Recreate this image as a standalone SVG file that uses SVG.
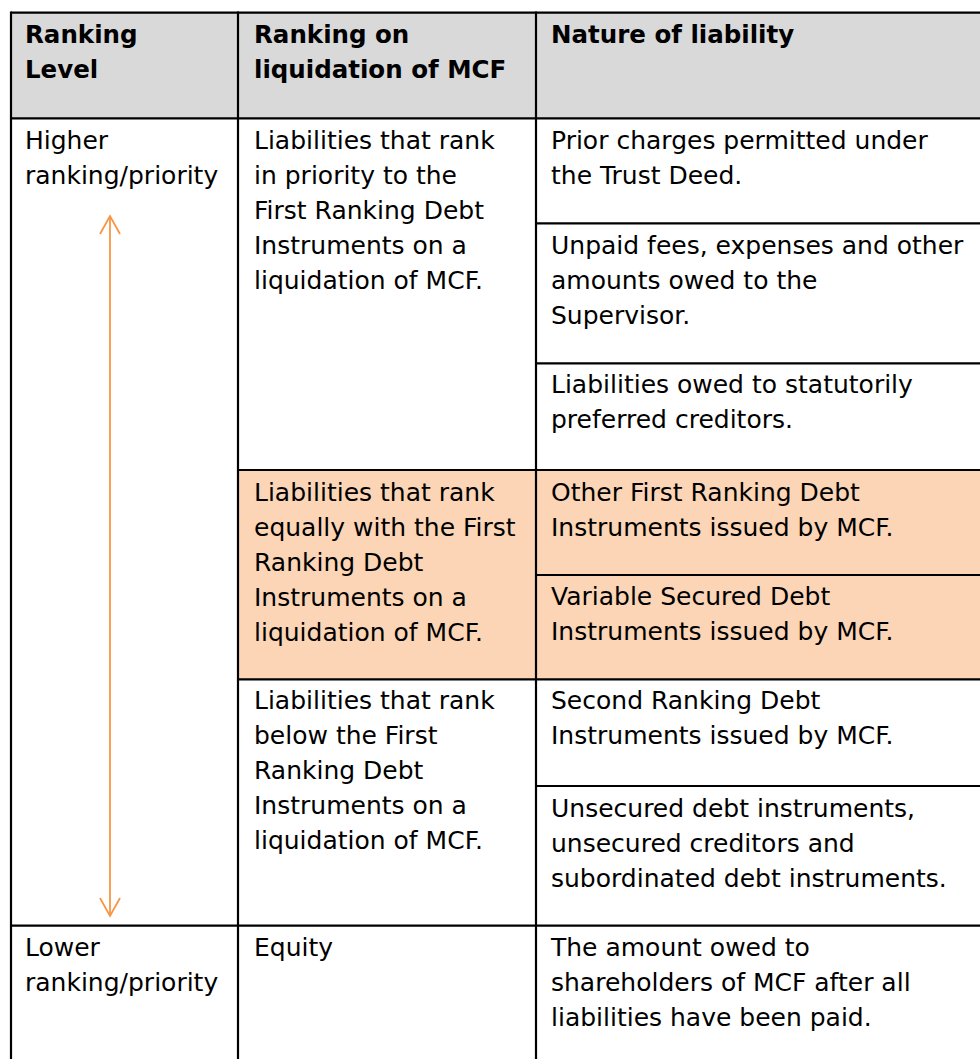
<svg xmlns="http://www.w3.org/2000/svg" width="980" height="1059" viewBox="0 0 980 1059">
<style>
.t{font-family:"DejaVu Sans","Verdana","Liberation Sans",sans-serif;font-size:25px;fill:#000}
.h{font-family:"DejaVu Sans","Verdana","Liberation Sans",sans-serif;font-size:24.5px;font-weight:bold;fill:#000}
.g{stroke:#000;stroke-width:2.2;fill:none}
.arr{stroke:#F79646;stroke-width:1.8;fill:none}
</style>
<defs>
<marker id="ah" viewBox="0 0 24 24" refX="20" refY="12" markerWidth="24" markerHeight="24" markerUnits="userSpaceOnUse" orient="auto-start-reverse">
<path d="M2,2 L20,12 L2,22" stroke="#F79646" stroke-width="1.8" fill="none"/>
</marker>
</defs>
<rect x="0" y="0" width="980" height="1059" fill="#fff"/>
<rect x="11" y="12.7" width="975" height="105.6" fill="#D9D9D9"/>
<rect x="238" y="470" width="748" height="209" fill="#FBD5B5"/>

<g id="grid">
<line class="g" x1="11" y1="12.7" x2="985" y2="12.7"/>
<line class="g" x1="11" y1="118.3" x2="985" y2="118.3"/>
<line class="g" x1="11" y1="925.7" x2="985" y2="925.7"/>
<line class="g" x1="11" y1="11.6" x2="11" y2="1060"/>
<line class="g" x1="238" y1="11.6" x2="238" y2="1060"/>
<line class="g" x1="536" y1="11.6" x2="536" y2="1060"/>
<line class="g" x1="536" y1="223.3" x2="985" y2="223.3"/>
<line class="g" x1="536" y1="363.3" x2="985" y2="363.3"/>
<line class="g" x1="238" y1="470" x2="985" y2="470"/>
<line class="g" x1="536" y1="575" x2="985" y2="575"/>
<line class="g" x1="238" y1="679.3" x2="985" y2="679.3"/>
<line class="g" x1="536" y1="786" x2="985" y2="786"/>
</g>

<g id="connectors">
<line class="arr" x1="110" y1="216" x2="110" y2="916" marker-start="url(#ah)" marker-end="url(#ah)"/>
</g>

<g id="header-level"><text class="h" x="25" y="43">Ranking</text><text class="h" x="25" y="78">Level</text></g>
<g id="header-ranking"><text class="h" x="254" y="43">Ranking on</text><text class="h" x="254" y="78">liquidation of MCF</text></g>
<g id="header-nature"><text class="h" x="551" y="43">Nature of liability</text></g>

<g id="higher"><text class="t" x="25" y="149">Higher</text><text class="t" x="25" y="184">ranking/priority</text></g>
<g id="rank-prior"><text class="t" x="254" y="149">Liabilities that rank</text><text class="t" x="254" y="184">in priority to the</text><text class="t" x="254" y="219">First Ranking Debt</text><text class="t" x="254" y="254">Instruments on a</text><text class="t" x="254" y="289">liquidation of MCF.</text></g>
<g id="prior-charges"><text class="t" x="551" y="149">Prior charges permitted under</text><text class="t" x="551" y="184">the Trust Deed.</text></g>
<g id="unpaid-fees"><text class="t" x="551" y="254">Unpaid fees, expenses and other</text><text class="t" x="551" y="289">amounts owed to the</text><text class="t" x="551" y="324">Supervisor.</text></g>
<g id="statutory"><text class="t" x="551" y="393">Liabilities owed to statutorily</text><text class="t" x="551" y="428">preferred creditors.</text></g>

<g id="rank-equal"><text class="t" x="254" y="500.5">Liabilities that rank</text><text class="t" x="254" y="535.5">equally with the First</text><text class="t" x="254" y="570.5">Ranking Debt</text><text class="t" x="254" y="605.5">Instruments on a</text><text class="t" x="254" y="640.5">liquidation of MCF.</text></g>
<g id="other-first"><text class="t" x="551" y="500.5">Other First Ranking Debt</text><text class="t" x="551" y="535.5">Instruments issued by MCF.</text></g>
<g id="variable-secured"><text class="t" x="551" y="605">Variable Secured Debt</text><text class="t" x="551" y="640">Instruments issued by MCF.</text></g>

<g id="rank-below"><text class="t" x="254" y="709">Liabilities that rank</text><text class="t" x="254" y="744">below the First</text><text class="t" x="254" y="779">Ranking Debt</text><text class="t" x="254" y="814">Instruments on a</text><text class="t" x="254" y="849">liquidation of MCF.</text></g>
<g id="second-ranking"><text class="t" x="551" y="709">Second Ranking Debt</text><text class="t" x="551" y="744">Instruments issued by MCF.</text></g>
<g id="unsecured"><text class="t" x="551" y="816.5">Unsecured debt instruments,</text><text class="t" x="551" y="851.5">unsecured creditors and</text><text class="t" x="551" y="886.5">subordinated debt instruments.</text></g>

<g id="lower"><text class="t" x="25" y="955.5">Lower</text><text class="t" x="25" y="990.5">ranking/priority</text></g>
<g id="equity"><text class="t" x="254" y="955.5">Equity</text></g>
<g id="equity-nature"><text class="t" x="551" y="955.5">The amount owed to</text><text class="t" x="551" y="990.5">shareholders of MCF after all</text><text class="t" x="551" y="1025.5">liabilities have been paid.</text></g>
</svg>
